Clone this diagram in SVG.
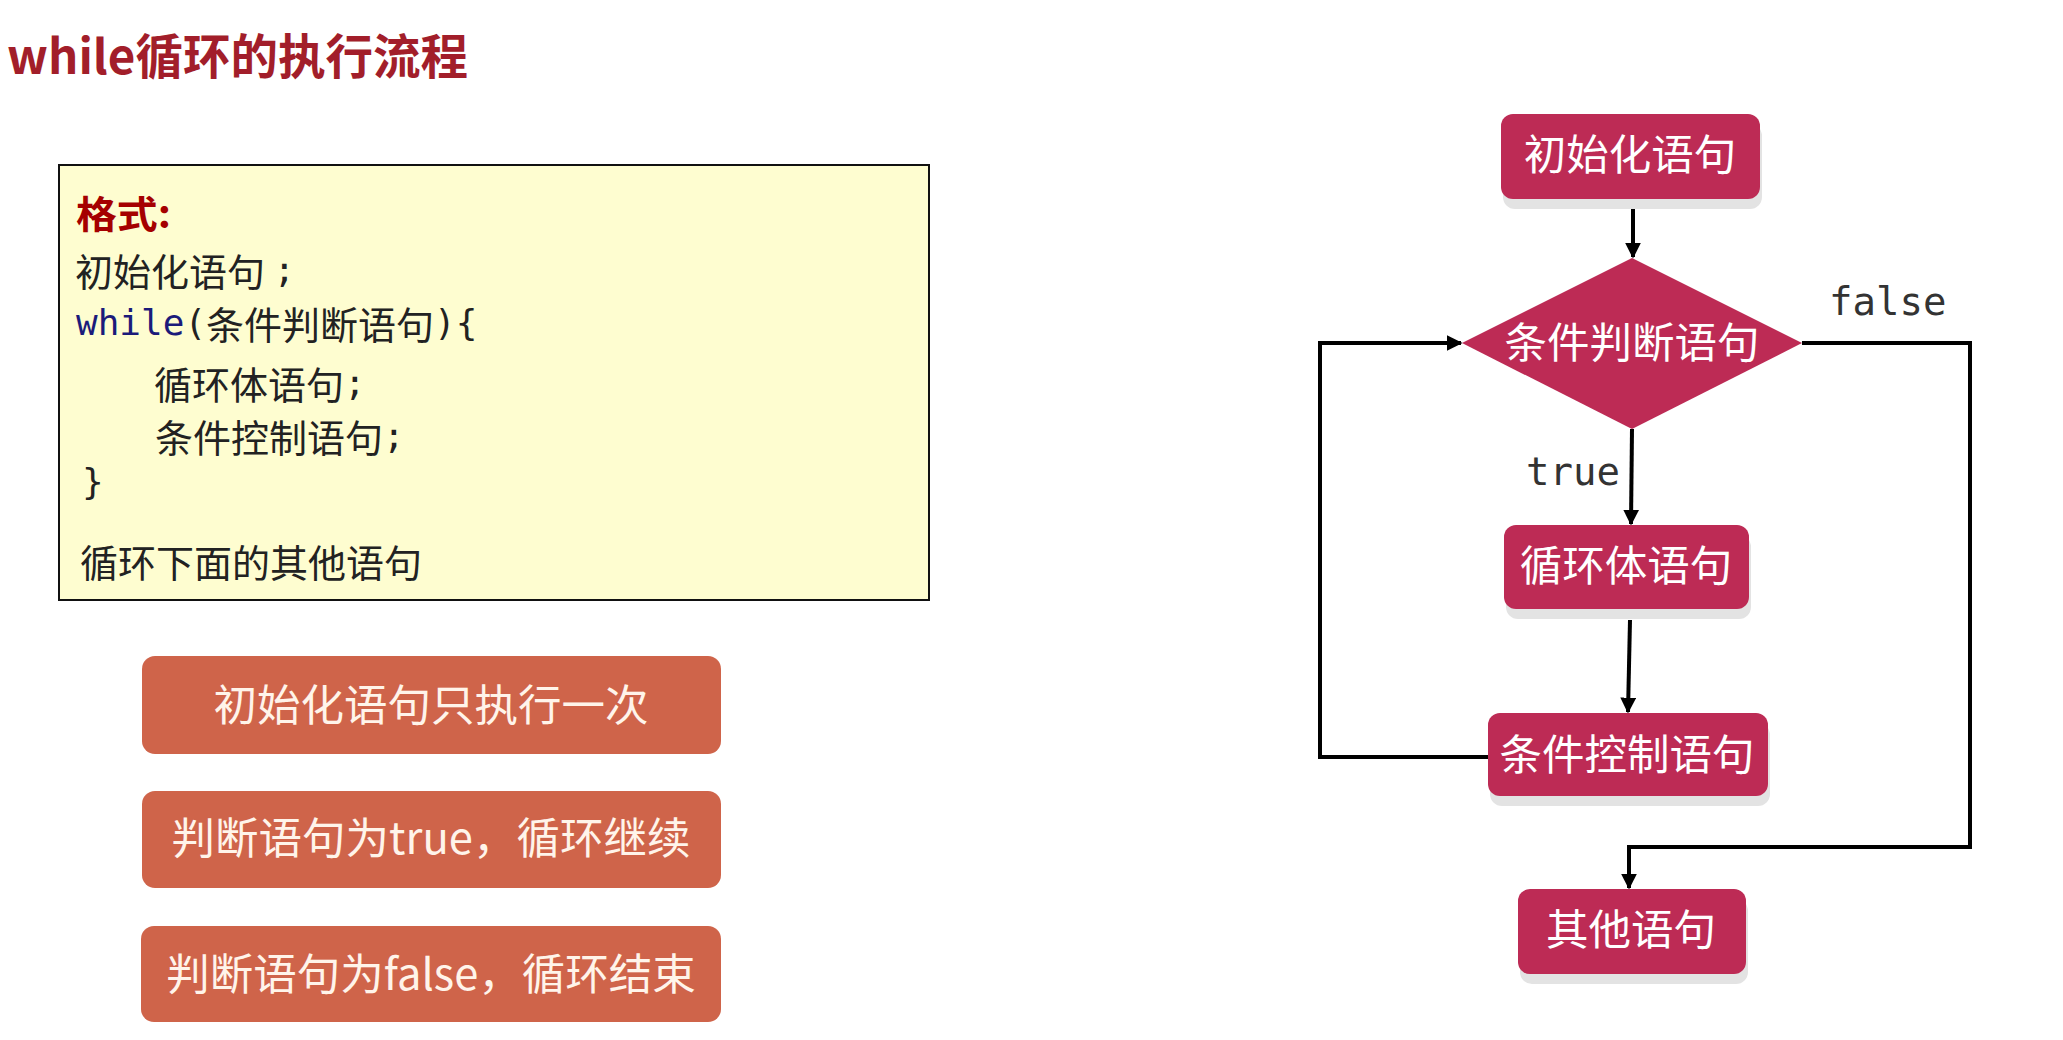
<svg xmlns="http://www.w3.org/2000/svg" width="2063" height="1040" viewBox="0 0 2063 1040">
<defs>
<marker id="arr" viewBox="0 0 10 10" refX="9" refY="5" markerWidth="4" markerHeight="4" orient="auto-start-reverse" markerUnits="strokeWidth">
<path d="M0,0 L10,5 L0,10 Z" fill="#000"/>
</marker>
<style>
.cjk{font-family:"Noto Sans CJK SC","Noto Sans",sans-serif;}
.title{font-size:47.5px;font-weight:bold;fill:#A21E2A;}
.code{font-size:38px;fill:#222;dominant-baseline:central;}
.mono{font-family:"DejaVu Sans Mono","Noto Sans CJK SC",monospace;font-size:36px;}
.node{fill:#BD2B55;}
.shadow{fill:#E3E3E3;}
.nlabel{font-size:42.5px;fill:#FFFFFF;text-anchor:middle;dominant-baseline:central;}
.tip{fill:#CF644A;}
.tlabel{font-size:43.5px;fill:#FFF4EA;text-anchor:middle;dominant-baseline:central;}
.edge{fill:none;stroke:#000;stroke-width:4;}
.elabel{font-family:"DejaVu Sans Mono",monospace;font-size:39px;fill:#333;dominant-baseline:central;}
</style>
</defs>
<rect width="2063" height="1040" fill="#FFFFFF"/>

<g id="title">
<text class="cjk title" x="7" y="74">while循环的执行流程</text>
</g>

<g id="format-box">
<rect x="59" y="165" width="870" height="435" fill="#FEFDD0" stroke="#111" stroke-width="2"/>
<text class="cjk" x="76" y="211" font-size="38" font-weight="bold" fill="#A50000" dominant-baseline="central" textLength="95" lengthAdjust="spacingAndGlyphs">格式:</text>
<text class="cjk code" x="75" y="269">初始化语句 <tspan class="mono">;</tspan></text>
<text class="code mono" x="76" y="322"><tspan fill="#1B1B7A">while</tspan>(<tspan class="cjk" font-size="38">条件判断语句</tspan>){</text>
<text class="cjk code" x="154" y="382">循环体语句<tspan class="mono">;</tspan></text>
<text class="cjk code" x="155" y="435">条件控制语句<tspan class="mono">;</tspan></text>
<text class="code mono" x="82" y="481">}</text>
<text class="cjk code" x="80" y="560">循环下面的其他语句</text>
</g>

<g id="tip1">
<rect class="tip" x="142" y="656" width="579" height="98" rx="13"/>
<text class="cjk tlabel" x="431" y="702">初始化语句只执行一次</text>
</g>
<g id="tip2">
<rect class="tip" x="142" y="791" width="579" height="97" rx="13"/>
<text class="cjk tlabel" x="431" y="835">判断语句为true，循环继续</text>
</g>
<g id="tip3">
<rect class="tip" x="141" y="926" width="580" height="96" rx="13"/>
<text class="cjk tlabel" x="431" y="971">判断语句为false，循环结束</text>
</g>

<g id="connectors">
<line class="edge" x1="1633" y1="199" x2="1633" y2="257" marker-end="url(#arr)"/>
<line class="edge" x1="1632" y1="429" x2="1631" y2="524" marker-end="url(#arr)"/>
<line class="edge" x1="1630" y1="620" x2="1628" y2="712" marker-end="url(#arr)"/>
<polyline class="edge" points="1488,757 1320,757 1320,343 1461,343" marker-end="url(#arr)"/>
<polyline class="edge" points="1802,343 1970,343 1970,847 1629,847 1629,888" marker-end="url(#arr)"/>
<text class="elabel" x="1829" y="301">false</text>
<text class="elabel" x="1526" y="471">true</text>
</g>

<g id="init">
<rect class="shadow" x="1503" y="124" width="259" height="85" rx="12"/>
<rect class="node" x="1501" y="114" width="259" height="85" rx="12"/>
<text class="cjk nlabel" x="1630" y="151">初始化语句</text>
</g>

<g id="cond">
<polygon class="node" points="1632,258 1802,343 1632,429 1462,343"/>
<text class="cjk nlabel" x="1632" y="339">条件判断语句</text>
</g>

<g id="body">
<rect class="shadow" x="1506" y="535" width="245" height="84" rx="12"/>
<rect class="node" x="1504" y="525" width="245" height="84" rx="12"/>
<text class="cjk nlabel" x="1626" y="562">循环体语句</text>
</g>

<g id="control">
<rect class="shadow" x="1490" y="723" width="280" height="83" rx="12"/>
<rect class="node" x="1488" y="713" width="280" height="83" rx="12"/>
<text class="cjk nlabel" x="1627" y="751">条件控制语句</text>
</g>

<g id="other">
<rect class="shadow" x="1520" y="899" width="228" height="85" rx="12"/>
<rect class="node" x="1518" y="889" width="228" height="85" rx="12"/>
<text class="cjk nlabel" x="1631" y="926">其他语句</text>
</g>
</svg>
